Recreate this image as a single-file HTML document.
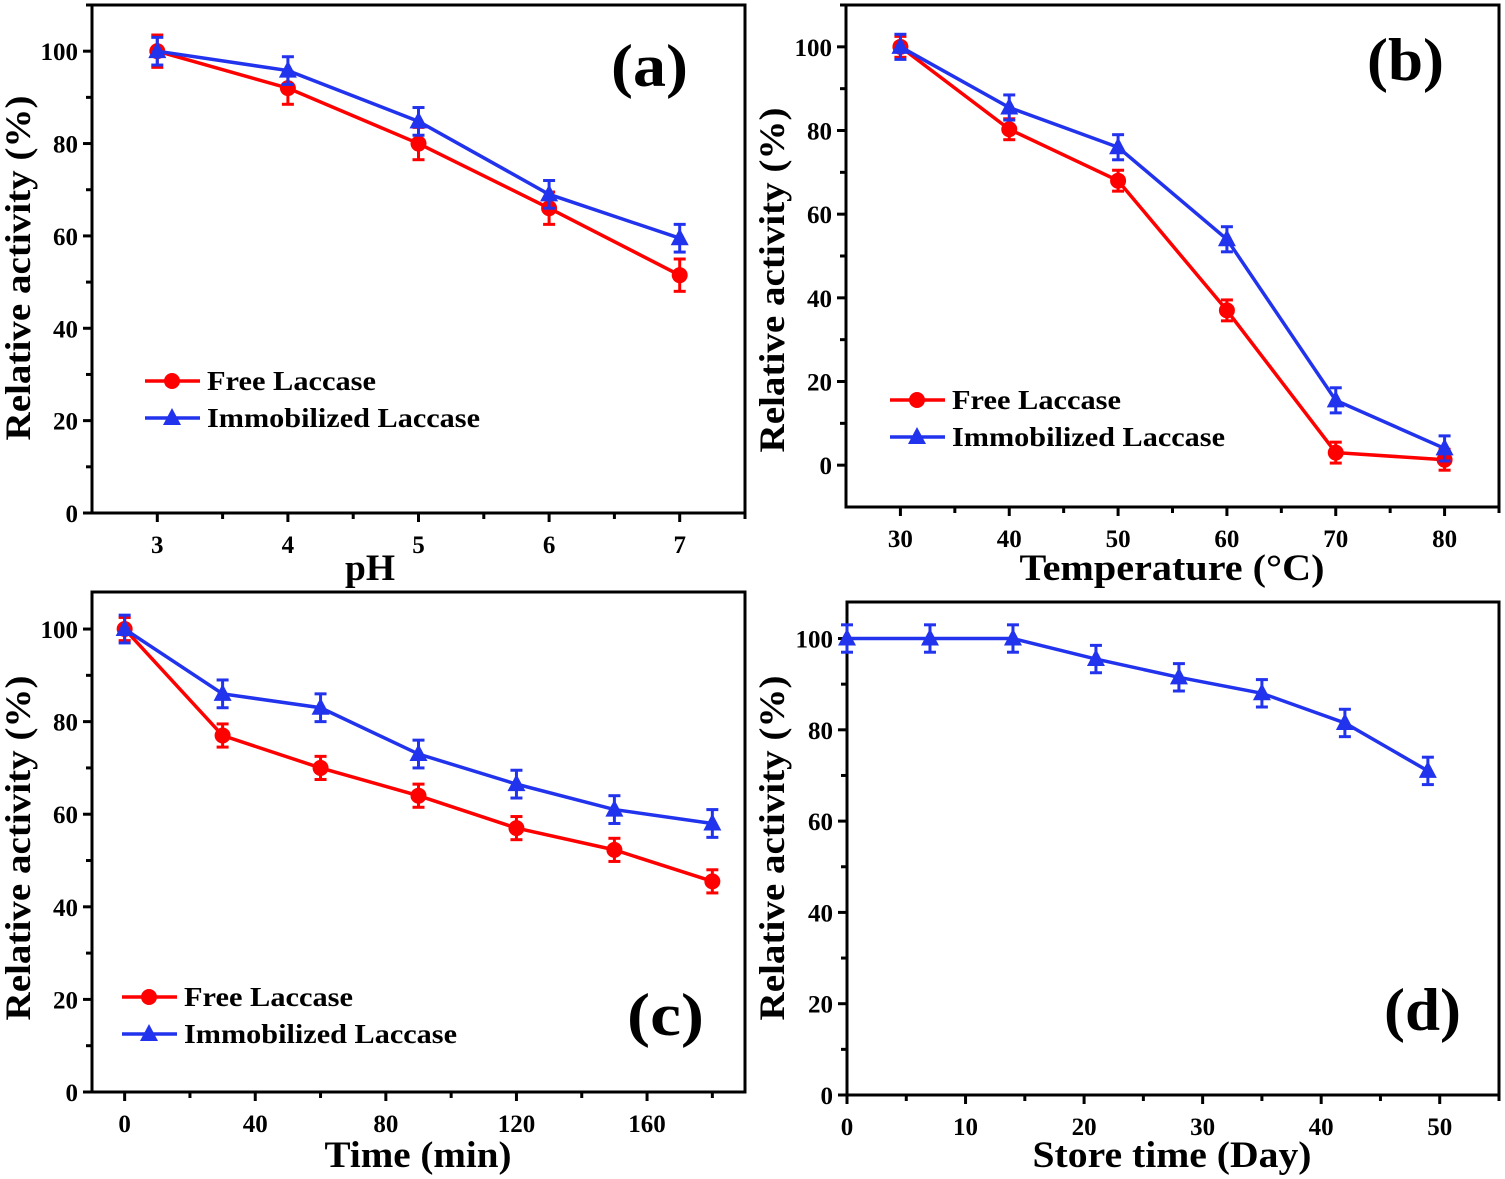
<!DOCTYPE html><html><head><meta charset="utf-8"><style>body{margin:0;background:#fff}svg{display:block}text{font-family:"Liberation Serif",serif;font-weight:bold;fill:#000}</style></head><body>
<svg id="s" width="1505" height="1179" xmlns="http://www.w3.org/2000/svg"></svg>
<script>
const S=document.getElementById('s');let h='';
function P(o){
 const {L,R,T,B,x0,x1,y0,y1}=o;
 const X=v=>L+(v-x0)/(x1-x0)*(R-L), Y=v=>B-(v-y0)/(y1-y0)*(B-T);
 h+=`<rect x="${L}" y="${T}" width="${R-L}" height="${B-T}" fill="none" stroke="#000" stroke-width="3"/>`;
 for(let v=o.yt0;v<=y1+0.01;v+=o.ys/2){const y=Y(v);const maj=Math.abs((v-o.yt0)/o.ys-Math.round((v-o.yt0)/o.ys))<0.01;
  h+=`<line x1="${L}" x2="${L-(maj?9:6)}" y1="${y}" y2="${y}" stroke="#000" stroke-width="3"/>`;
  if(maj)h+=`<text x="${L-14}" y="${y+9}" font-size="25" text-anchor="end">${Math.round(v)}</text>`;}
 for(let v=o.xt0;v<=x1+0.01;v+=o.xs/2){const x=X(v);const maj=Math.abs((v-o.xt0)/o.xs-Math.round((v-o.xt0)/o.xs))<0.01;
  h+=`<line x1="${x}" x2="${x}" y1="${B}" y2="${B+(maj?9:6)}" stroke="#000" stroke-width="3"/>`;
  if(maj)h+=`<text x="${x}" y="${B+40}" font-size="25" text-anchor="middle">${Math.round(v)}</text>`;}
 for(const s of o.series){const c=s.c;
  h+=`<polyline fill="none" stroke="${c}" stroke-width="3.5" points="${s.x.map((v,i)=>X(v)+','+Y(s.y[i])).join(' ')}"/>`;
  s.x.forEach((v,i)=>{const x=X(v),y=Y(s.y[i]),e=(s.e||3)*(B-T)/(y1-y0);
   h+=`<g stroke="${c}" stroke-width="3"><line x1="${x}" x2="${x}" y1="${y-e}" y2="${y+e}"/><line x1="${x-6}" x2="${x+6}" y1="${y-e}" y2="${y-e}"/><line x1="${x-6}" x2="${x+6}" y1="${y+e}" y2="${y+e}"/></g>`;
   h+=s.m=='o'?`<circle cx="${x}" cy="${y}" r="8" fill="${c}"/>`:`<polygon points="${x},${y-10} ${x-9},${y+7} ${x+9},${y+7}" fill="${c}"/>`;});}
 if(o.leg){const [lx,ly]=o.leg;
  h+=`<line x1="${lx}" x2="${lx+55}" y1="${ly}" y2="${ly}" stroke="red" stroke-width="3.5"/><circle cx="${lx+27}" cy="${ly}" r="8" fill="red"/><text x="${lx+62}" y="${ly+9}" font-size="27" textLength="169" lengthAdjust="spacingAndGlyphs">Free Laccase</text>`;
  h+=`<line x1="${lx}" x2="${lx+55}" y1="${ly+37}" y2="${ly+37}" stroke="#2233ee" stroke-width="3.5"/><polygon points="${lx+27},${ly+27} ${lx+18},${ly+44} ${lx+36},${ly+44}" fill="#2233ee"/><text x="${lx+62}" y="${ly+46}" font-size="27" textLength="273" lengthAdjust="spacingAndGlyphs">Immobilized Laccase</text>`;}
 h+=`<text x="${o.lab[0]}" y="${o.lab[1]}" font-size="60" textLength="77" lengthAdjust="spacingAndGlyphs">${o.lab[2]}</text>`;
 h+=`<text x="${o.xt[2]}" y="${o.xt[1]}" font-size="37" text-anchor="middle" textLength="${o.xt[3]}" lengthAdjust="spacingAndGlyphs">${o.xt[0]}</text>`;
 h+=`<text transform="translate(${o.yx},${o.yc}) rotate(-90)" font-size="36" text-anchor="middle" textLength="345" lengthAdjust="spacingAndGlyphs">Relative activity (%)</text>`;
}
const R='red',Bl='#2233ee';
P({L:92,R:745,T:5,B:513,x0:2.5,x1:7.5,y0:0,y1:110,yt0:0,ys:20,xt0:3,xs:1,
 series:[{c:R,m:'o',x:[3,4,5,6,7],y:[100,92,80,66,51.5],e:3.5},{c:Bl,m:'t',x:[3,4,5,6,7],y:[100,95.8,84.8,69,59.5],e:3}],
 leg:[145,381],lab:[611,86,'(a)'],xt:['pH',580,370,50],yx:30,yc:268});
P({L:846,R:1499,T:5,B:507,x0:25,x1:85,y0:-10,y1:110,yt0:0,ys:20,xt0:30,xs:10,
 series:[{c:R,m:'o',x:[30,40,50,60,70,80],y:[100,80.3,68,37,3,1.3],e:2.5},{c:Bl,m:'t',x:[30,40,50,60,70,80],y:[100,85.5,76,54,15.5,4],e:3}],
 leg:[890,400],lab:[1367,80,'(b)'],xt:['Temperature (°C)',580,1172,305],yx:784,yc:280});
P({L:92,R:745,T:592,B:1092,x0:-10,x1:190,y0:0,y1:108,yt0:0,ys:20,xt0:0,xs:40,
 series:[{c:R,m:'o',x:[0,30,60,90,120,150,180],y:[100,77,70,64,57,52.3,45.5],e:2.5},{c:Bl,m:'t',x:[0,30,60,90,120,150,180],y:[100,86,83,73,66.5,61,58],e:3}],
 leg:[122,997],lab:[627,1035,'(c)'],xt:['Time (min)',1167,418,187],yx:30,yc:848});
P({L:847,R:1499,T:602,B:1095,x0:0,x1:55,y0:0,y1:108,yt0:0,ys:20,xt0:0,xs:10,
 series:[{c:Bl,m:'t',x:[0,7,14,21,28,35,42,49],y:[100,100,100,95.5,91.5,88,81.5,71],e:3}],
 lab:[1384,1030,'(d)'],xt:['Store time (Day)',1167,1172,279],yx:784,yc:848});
S.innerHTML=h;
</script></body></html>
